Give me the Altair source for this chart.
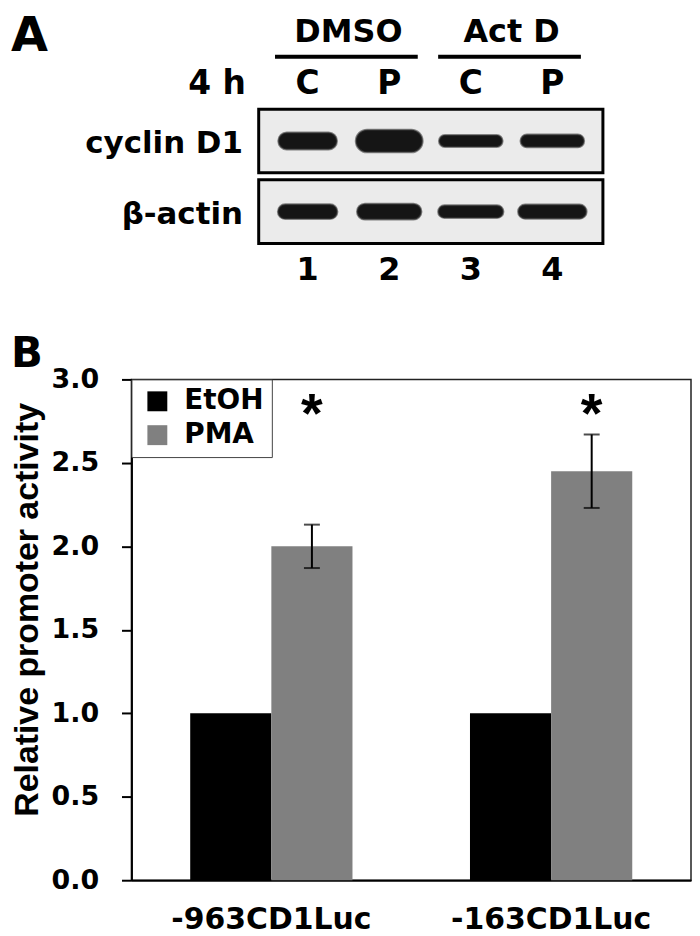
import altair as alt
import pandas as pd

# ---------------- Panel A: western blot ----------------
lanes = [1, 2, 3, 4]
lane_treatments = ["DMSO", "DMSO", "Act D", "Act D"]
lane_conditions = ["C", "P", "C", "P"]
lane_numbers = ["1", "2", "3", "4"]
time_label = ["4 h"]
blot_rows = ["cyclin D1", "β-actin"]
# band size (lane units / row units) read from the blot
cyclin_band_width = [0.72, 0.82, 0.78, 0.78]
cyclin_band_height = [0.24, 0.32, 0.17, 0.18]
actin_band_width = [0.73, 0.79, 0.80, 0.84]
actin_band_height = [0.21, 0.225, 0.18, 0.20]

# ---------------- Panel B: promoter activity ----------------
constructs = ["-963CD1Luc", "-163CD1Luc"]
treatments = ["EtOH", "PMA"]
etoh_values = [1.0, 1.0]
pma_values = [2.0, 2.45]
pma_errors = [0.13, 0.22]
significance = ["*", "*"]
y_ticks = [0.0, 0.5, 1.0, 1.5, 2.0, 2.5, 3.0]
panel_letters = ["A", "B"]

FONT = "DejaVu Sans"

# ---------- tables ----------
lane_df = pd.DataFrame({"lane": lanes, "treatment": lane_treatments,
                        "cond": lane_conditions, "num": lane_numbers})
band_df = pd.DataFrame({
    "lane": lanes * 2,
    "row": [1] * len(lanes) + [2] * len(lanes),
    "w": cyclin_band_width + actin_band_width,
    "h": cyclin_band_height + actin_band_height,
})
row_df = pd.DataFrame({"row": [1, 2], "name": blot_rows})
box_df = pd.DataFrame({"row": [1, 2],
                       "x0": [min(lanes) - 0.6] * 2,
                       "x1": [max(lanes) + 0.62] * 2})

xsA = alt.Scale(domain=[-1.16, 5.70], nice=False, zero=False)
ysA = alt.Scale(domain=[0.5, 2.5], reverse=True, nice=False, zero=False)

boxes = alt.Chart(box_df).transform_calculate(
    y0="datum.row - 0.45", y1="datum.row + 0.45"
).mark_rect(fill="#ebebeb", stroke="#000000", strokeWidth=3).encode(
    x=alt.X("x0:Q", scale=xsA, axis=None), x2="x1:Q",
    y=alt.Y("y0:Q", scale=ysA, axis=None), y2="y1:Q",
)

bands = alt.Chart(band_df).transform_calculate(
    x0="datum.lane - datum.w / 2", x1="datum.lane + datum.w / 2",
    y0="datum.row - datum.h / 2", y1="datum.row + datum.h / 2",
).mark_rect(fill="#151515", stroke="#3a3a3a", strokeWidth=2,
            strokeOpacity=0.6, cornerRadius=12).encode(
    x=alt.X("x0:Q", scale=xsA, axis=None), x2="x1:Q",
    y=alt.Y("y0:Q", scale=ysA, axis=None), y2="y1:Q",
)

cond_text = alt.Chart(lane_df).mark_text(
    font=FONT, fontSize=33, fontWeight="bold", baseline="alphabetic", color="black"
).encode(x=alt.X("lane:Q", scale=xsA, axis=None), y=alt.value(-12), text="cond:N")

num_text = alt.Chart(lane_df).mark_text(
    font=FONT, fontSize=32, fontWeight="bold", baseline="alphabetic", color="black"
).encode(x=alt.X("lane:Q", scale=xsA, axis=None), y=alt.value(175), text="num:N")

treat_text = alt.Chart(lane_df).transform_aggregate(
    mid="mean(lane)", groupby=["treatment"]
).mark_text(
    font=FONT, fontSize=32, fontWeight="bold", baseline="alphabetic", color="black"
).encode(x=alt.X("mid:Q", scale=xsA, axis=None), y=alt.value(-64), text="treatment:N")

treat_lines = alt.Chart(lane_df).transform_aggregate(
    lo="min(lane)", hi="max(lane)", groupby=["treatment"]
).transform_calculate(
    x0="datum.lo - 0.4", x1="datum.hi + 0.35"
).mark_rule(strokeWidth=4, color="black").encode(
    x=alt.X("x0:Q", scale=xsA, axis=None), x2="x1:Q", y=alt.value(-49)
)

row_text = alt.Chart(row_df).mark_text(
    font=FONT, fontSize=31, fontWeight="bold", align="right", baseline="middle",
    dy=3, color="black"
).encode(x=alt.value(112), y=alt.Y("row:Q", scale=ysA, axis=None), text="name:N")

time_text = alt.Chart(pd.DataFrame({"t": time_label})).mark_text(
    font=FONT, fontSize=33, fontWeight="bold", align="right", baseline="alphabetic",
    color="black"
).encode(x=alt.value(115), y=alt.value(-12), text="t:N")

letterA = alt.Chart(pd.DataFrame({"t": panel_letters[:1]})).mark_text(
    font=FONT, fontSize=48, fontWeight="bold", align="left", baseline="top", color="black"
).encode(x=alt.value(-121), y=alt.value(-93), text="t:N")

panelA = alt.layer(
    boxes, bands, cond_text, num_text, treat_text, treat_lines, row_text, time_text, letterA
).properties(width=562, height=142, view=alt.ViewBackground(strokeWidth=0))

# ---------- panel B ----------
bar_df = pd.DataFrame({
    "construct": constructs * 2,
    "treatment": ["EtOH"] * len(constructs) + ["PMA"] * len(constructs),
    "value": etoh_values + pma_values,
})
err_df = pd.DataFrame({
    "construct": constructs,
    "treatment": ["PMA"] * len(constructs),
    "value": pma_values,
    "err": pma_errors,
    "sig": significance,
})

xsB = alt.Scale(domain=constructs, paddingInner=0.42, paddingOuter=0.21)
offB = alt.Scale(domain=treatments, paddingInner=0, paddingOuter=0)
ysB = alt.Scale(domain=[0, 3], nice=False, zero=True)

x_axis = alt.Axis(title=None, labelAngle=0, ticks=False, labelFont=FONT,
                  labelFontSize=30, labelFontWeight="bold", labelColor="black",
                  labelPadding=24, labelLimit=400, domainColor="black", domainWidth=2)
y_axis = alt.Axis(values=y_ticks, format=".1f", grid=False,
                  labelFont=FONT, labelFontSize=27, labelFontWeight="bold",
                  labelColor="black", labelPadding=23, labelAlign="right",
                  tickColor="black", tickWidth=2, tickSize=10,
                  domainColor="black", domainWidth=2,
                  title="Relative promoter activity",
                  titleFont="Liberation Sans", titleFontSize=34,
                  titleFontWeight="bold", titleColor="black",
                  titleX=-94, titleY=231, titleAlign="center",
                  titleBaseline="alphabetic")

xB = alt.X("construct:N", sort=constructs, scale=xsB, axis=x_axis)
xo = alt.XOffset("treatment:N", sort=treatments, scale=offB)

bars = alt.Chart(bar_df).mark_bar().encode(
    x=xB, xOffset=xo,
    y=alt.Y("value:Q", scale=ysB, axis=y_axis),
    color=alt.Color("treatment:N", sort=treatments,
                    scale=alt.Scale(domain=treatments, range=["#000000", "#808080"]),
                    legend=alt.Legend(title=None, orient="top-left", offset=0, padding=8,
                                      fillColor="white", strokeColor="#444444",
                                      symbolType="square", symbolSize=400,
                                      symbolStrokeWidth=0, symbolOffset=4,
                                      labelFont=FONT, labelFontSize=28,
                                      labelFontWeight="bold", labelColor="black",
                                      labelOffset=13, rowPadding=6)),
)

errs = alt.Chart(err_df).transform_calculate(
    lo="datum.value - datum.err", hi="datum.value + datum.err"
).mark_rule(color="black", strokeWidth=2).encode(
    x=xB, xOffset=xo,
    y=alt.Y("lo:Q", scale=ysB, axis=y_axis), y2="hi:Q",
)

caps = alt.Chart(err_df).transform_calculate(
    lo="datum.value - datum.err", hi="datum.value + datum.err"
).transform_fold(["lo", "hi"], as_=["end", "yv"]).mark_tick(
    orient="horizontal", color="black", thickness=2, size=16
).encode(
    x=xB, xOffset=xo, y=alt.Y("yv:Q", scale=ysB, axis=y_axis),
)

stars = alt.Chart(err_df).mark_text(
    font="Liberation Sans", fontSize=56, fontWeight="bold", baseline="middle",
    dy=9, color="black"
).encode(
    x=xB, xOffset=xo, y=alt.Y(datum=2.84, scale=ysB, axis=y_axis), text="sig:N",
)

letterB = alt.Chart(pd.DataFrame({"t": panel_letters[1:]})).mark_text(
    font=FONT, fontSize=42, fontWeight="bold", align="left", baseline="top", color="black"
).encode(x=alt.value(-121), y=alt.value(-45), text="t:N")

panelB = alt.layer(bars, errs, caps, stars, letterB).properties(
    width=562, height=503,
    view=alt.ViewBackground(stroke="#222222", strokeWidth=1.5),
)

chart = alt.vconcat(
    panelA, panelB, spacing=133, bounds="flush",
    padding={"left": 2, "top": 3, "right": 0, "bottom": 0},
).resolve_scale(color="independent").resolve_legend(color="independent").configure(
    background="white"
)

chart.save("out.html", embed_options={"renderer": "svg", "actions": False})
